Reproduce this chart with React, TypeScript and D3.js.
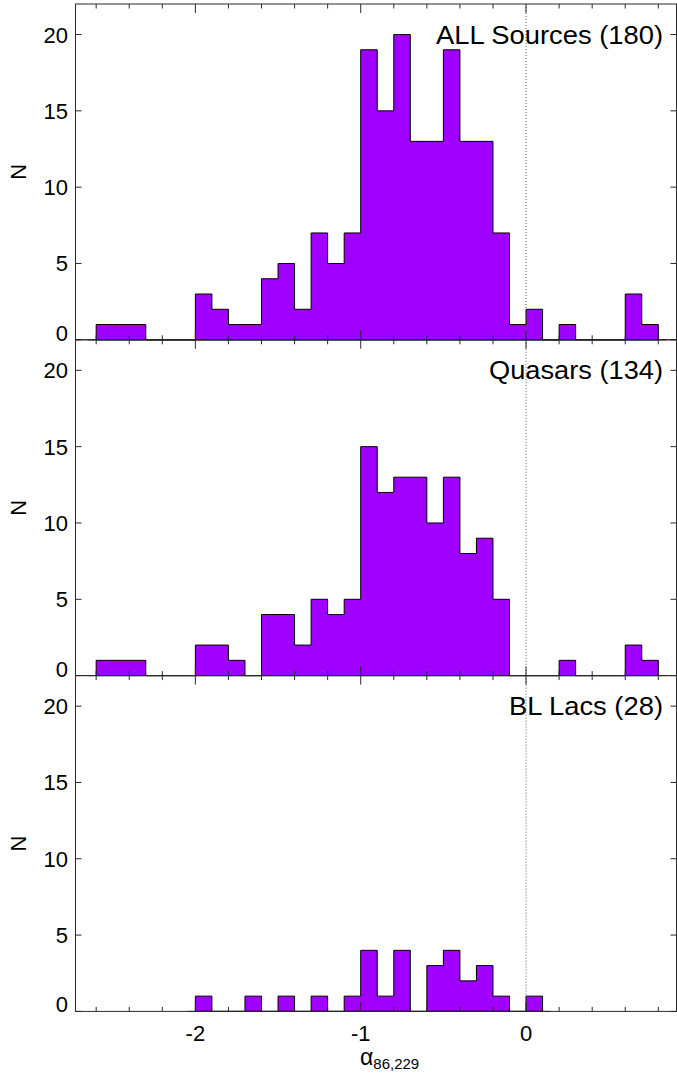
import React from 'react';
import * as d3 from 'd3';

// ---- data ----
const binLefts = [
  -2.6, -2.5, -2.4, -2.3, -2.2, -2.1, -2.0, -1.9, -1.8, -1.7, -1.6, -1.5, -1.4, -1.3, -1.2, -1.1,
  -1.0, -0.9, -0.8, -0.7, -0.6, -0.5, -0.4, -0.3, -0.2, -0.1, 0.0, 0.1, 0.2, 0.3, 0.4, 0.5, 0.6, 0.7,
];
const BIN_WIDTH = 0.1;

const allCounts = [
  1, 1, 1, 0, 0, 0, 3, 2, 1, 1, 4, 5, 2, 7, 5, 7,
  19, 15, 20, 13, 13, 19, 13, 13, 7, 1, 2, 0, 1, 0, 0, 0, 3, 1,
];
const quasarCounts = [
  1, 1, 1, 0, 0, 0, 2, 2, 1, 0, 4, 4, 2, 5, 4, 5,
  15, 12, 13, 13, 10, 13, 8, 9, 5, 0, 0, 0, 1, 0, 0, 0, 2, 1,
];
const bllacCounts = [
  0, 0, 0, 0, 0, 0, 1, 0, 0, 1, 0, 1, 0, 1, 0, 1,
  4, 1, 4, 0, 3, 4, 2, 3, 1, 0, 1, 0, 0, 0, 0, 0, 0, 0,
];

const panelTitles = ['ALL Sources (180)', 'Quasars (134)', 'BL Lacs (28)'];
const titleWidths = [227, 174, 154];
const yTicks = [0, 5, 10, 15, 20];
const xMajorTicks = [-2, -1, 0];
const xMajorLabels = ['-2', '-1', '0'];
const xMinorTicks = [-2.6, -2.4, -2.2, -1.8, -1.6, -1.4, -1.2, -0.8, -0.6, -0.4, -0.2, 0.2, 0.4, 0.6, 0.8];

// ---- layout ----
const W = 677;
const H = 1075;
const LEFT = 75.5;
const RIGHT = 676.5;
const PANEL_H = 335.8;
const PANEL_TOPS = [4, 339.8, 675.6];
const FONT = '"Liberation Sans", Arial, Helvetica, sans-serif';
const FILL = '#A000FF';
const AXIS = '#2a2a2a';

const xScale = d3.scaleLinear().domain([-2.725, 0.91]).range([LEFT, RIGHT]);

function Panel({ counts, title, titleW, top, showXLabels }: { counts: number[]; title: string; titleW: number; top: number; showXLabels: boolean }) {
  const bottom = top + PANEL_H;
  const y = d3.scaleLinear().domain([0, 22]).range([bottom, top]);

  const nz = counts.map((c, i) => (c > 0 ? i : -1)).filter((i) => i >= 0);
  const i0 = nz[0];
  const i1 = nz[nz.length - 1];
  const pts: [number, number][] = [[binLefts[i0], 0]];
  for (let i = i0; i <= i1; i++) {
    pts.push([binLefts[i], counts[i]]);
    pts.push([binLefts[i] + BIN_WIDTH, counts[i]]);
  }
  pts.push([binLefts[i1] + BIN_WIDTH, 0]);
  const line = d3
    .line<[number, number]>()
    .x((d) => xScale(d[0]))
    .y((d) => y(d[1]));
  const pathD = line(pts) + 'Z';
  const baseFrom = xScale(binLefts[i0] - BIN_WIDTH / 2);
  const baseTo = xScale(binLefts[i1] + BIN_WIDTH * 1.5);

  const majLen = 9;
  const minLen = 4.5;
  const yTickLen = 6;

  return (
    <g>
      {/* histogram */}
      <path d={pathD} fill={FILL} stroke="#000" strokeWidth={1} />
      <line x1={baseFrom} x2={baseTo} y1={bottom} y2={bottom} stroke="#000" strokeWidth={1} />

      {/* zero line (dotted) */}
      <line x1={xScale(0)} x2={xScale(0)} y1={top} y2={bottom} stroke="#555" strokeWidth={1} strokeDasharray="1,2" />

      {/* frame */}
      <rect x={LEFT} y={top} width={RIGHT - LEFT} height={PANEL_H} fill="none" stroke={AXIS} strokeWidth={1} />

      {/* x ticks: inward at bottom and top */}
      {xMajorTicks.map((t) => (
        <g key={'M' + t}>
          <line x1={xScale(t)} x2={xScale(t)} y1={bottom} y2={bottom - majLen} stroke={AXIS} />
          <line x1={xScale(t)} x2={xScale(t)} y1={top} y2={top + majLen} stroke={AXIS} />
        </g>
      ))}
      {xMinorTicks.map((t) => (
        <g key={'m' + t}>
          <line x1={xScale(t)} x2={xScale(t)} y1={bottom} y2={bottom - minLen} stroke={AXIS} />
          <line x1={xScale(t)} x2={xScale(t)} y1={top} y2={top + minLen} stroke={AXIS} />
        </g>
      ))}

      {/* y ticks */}
      {yTicks.map((t) => (
        <g key={'y' + t}>
          <line x1={LEFT} x2={LEFT + yTickLen} y1={y(t)} y2={y(t)} stroke={AXIS} />
          <line x1={RIGHT} x2={RIGHT - yTickLen} y1={y(t)} y2={y(t)} stroke={AXIS} />
          <text
            x={68}
            y={t === 0 ? y(t) + 1 : y(t) + 8}
            textAnchor="end"
            fontFamily={FONT}
            fontSize={22}
            fill="#000"
          >
            {t}
          </text>
        </g>
      ))}

      {/* y label */}
      <text
        transform={`translate(26,${(top + bottom) / 2}) rotate(-90)`}
        textAnchor="middle"
        fontFamily={FONT}
        fontSize={22}
        fill="#000"
      >
        N
      </text>

      {/* title */}
      <text
        x={663 - titleW}
        y={y(20) + 9}
        textLength={titleW}
        lengthAdjust="spacingAndGlyphs"
        fontFamily={FONT}
        fontSize={26}
        fill="#000"
      >
        {title}
      </text>

      {showXLabels &&
        xMajorTicks.map((t, i) => (
          <text key={'xl' + t} x={xScale(t)} y={bottom + 30} textAnchor="middle" fontFamily={FONT} fontSize={22} fill="#000">
            {xMajorLabels[i]}
          </text>
        ))}
    </g>
  );
}

export default function App() {
  const series = [allCounts, quasarCounts, bllacCounts];
  return (
    <svg
      width={W}
      height={H}
      viewBox={`0 0 ${W} ${H}`}
      style={{ position: 'absolute', left: 0, top: 0, background: '#fff' }}
    >
      <rect x={0} y={0} width={W} height={H} fill="#fff" />
      {series.map((c, i) => (
        <Panel key={i} counts={c} title={panelTitles[i]} titleW={titleWidths[i]} top={PANEL_TOPS[i]} showXLabels={i === 2} />
      ))}
      <text x={360} y={1065} fontFamily={FONT} fontSize={23} fill="#000">
        α
        <tspan fontSize={15} dy={4}>
          86,229
        </tspan>
      </text>
    </svg>
  );
}
